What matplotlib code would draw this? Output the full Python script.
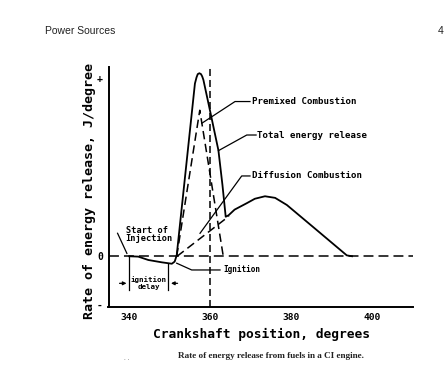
import matplotlib
matplotlib.use("Agg")
import matplotlib.pyplot as plt

# ---- data (crank angle in degrees, energy release in arbitrary units) ----
total_x = [340, 342.2, 344.7, 348.0, 350.5, 351.2, 351.7, 356.2, 356.6, 356.9,
           357.3, 357.7, 358.0, 358.3, 360.0, 362.0, 363.0, 363.8, 364.5, 366.0,
           369.0, 371.0, 373.5, 376.0, 378.9, 385.4, 393.7, 395.0]
total_y = [0, -0.2, -2.1, -3.4, -4.2, -3.0, 0.5, 97, 100.5, 102.3,
           102.8, 102.3, 101, 99, 81, 59.5, 40, 22.2, 23, 26.2,
           29.8, 32.3, 33.7, 32.8, 28.8, 16.4, 0.5, 0]
premixed_x = [351.7, 357.4, 363.2]
premixed_y = [0, 82, 0]
diffusion_x = [351.8, 364.6]
diffusion_y = [0, 22.5]

xticks = [340, 360, 380, 400]
yticks = [-27.5, 0, 100]
yticklabels = ["-", "0", "+"]

W, H = 444, 366
fig = plt.figure(figsize=(W / 100, H / 100), dpi=100)
fig.patch.set_facecolor("white")

def fx(px):
    return px / W

def fy(py):
    return 1 - py / H

ax_l, ax_r, ax_b, ax_t = 108.5, 413, 307, 67
ax = fig.add_axes([fx(ax_l), fy(ax_b), (ax_r - ax_l) / W, (ax_b - ax_t) / H])
ax.set_xlim(334.86, 410.05)
ax.set_ylim(-28.5, 106.3)

mono = dict(family="DejaVu Sans Mono", weight="bold", color="black")

for s in ["top", "right"]:
    ax.spines[s].set_visible(False)
for s in ["left", "bottom"]:
    ax.spines[s].set_linewidth(1.4)

ax.set_xticks(xticks)
ax.set_xticklabels([str(t) for t in xticks], fontdict=dict(mono, size=6.8))
ax.set_yticks(yticks)
ax.set_yticklabels(yticklabels, fontdict=dict(mono, size=7))
ax.tick_params(length=0, pad=4)

# reference lines
ax.axhline(0, color="black", lw=1.1, dashes=(6.5, 3.3))
ax.axvline(360, color="black", lw=1.1, dashes=(4.6, 2.6))

# curves
ax.plot(total_x, total_y, color="black", lw=1.3, solid_joinstyle="round")
ax.plot(premixed_x, premixed_y, color="black", lw=1.1, dashes=(5.5, 3.0))
ax.plot(diffusion_x, diffusion_y, color="black", lw=1.1, dashes=(5.5, 3.0))

# annotations with leader lines
lead = dict(color="black", lw=0.9)
ax.plot([369.8, 366.1, 357.9], [86.9, 86.9, 74.7], **lead)
ax.text(370.2, 86.9, "Premixed Combustion", va="center", ha="left", fontdict=dict(mono, size=6.6))
ax.plot([371.3, 369.0, 362.0], [68.1, 68.1, 59.3], **lead)
ax.text(371.5, 68.1, "Total energy release", va="center", ha="left", fontdict=dict(mono, size=6.6))
ax.plot([369.8, 367.75, 357.46], [45.1, 45.1, 12.9], **lead)
ax.text(370.2, 45.1, "Diffusion Combustion", va="center", ha="left", fontdict=dict(mono, size=6.6))

ax.text(339.1, 12.2, "Start of\nInjection", va="center", ha="left", linespacing=0.95,
        fontdict=dict(mono, size=6.2))
ax.plot([337.1, 339.4], [12.9, 1.6], **lead)

ax.plot([351.7, 355.4, 362.4], [-3.9, -7.7, -7.7], **lead)
ax.text(363.2, -7.7, "Ignition", va="center", ha="left", fontdict=dict(mono, size=5.6))

ax.plot([340, 340], [0, -18.9], **lead)
ax.plot([349.6, 349.6], [-4.3, -18.9], **lead)
ax.annotate("", xy=(340, -15.2), xytext=(336.9, -15.2),
            arrowprops=dict(arrowstyle="-|>", color="black", lw=0.9, mutation_scale=5))
ax.annotate("", xy=(349.6, -15.2), xytext=(352.6, -15.2),
            arrowprops=dict(arrowstyle="-|>", color="black", lw=0.9, mutation_scale=5))
ax.text(344.8, -15.0, "ignition\ndelay", va="center", ha="center", linespacing=1.15,
        fontdict=dict(mono, size=5.4))

# axis labels
fig.text(fx(90), fy(191), "Rate of energy release, J/degree", rotation=90,
         ha="center", va="center", fontdict=dict(mono, size=9.6))
fig.text(fx(261.5), fy(334), "Crankshaft position, degrees", ha="center", va="center",
         fontdict=dict(mono, size=9.3))

# page header and caption
fig.text(fx(45), fy(31), "Power Sources", ha="left", va="center",
         family="Liberation Sans", size=7.5, color="#222222")
fig.text(fx(438), fy(31), "4", ha="left", va="center",
         family="Liberation Sans", size=7.5, color="#222222")
fig.text(fx(178), fy(356), "Rate of energy release from fuels in a CI engine.", ha="left",
         va="center", family="Liberation Serif", weight="bold", size=6.6, color="#222222")
fig.text(fx(124), fy(358), ". .", ha="left", va="center", family="Liberation Serif",
         size=5, color="#555555")

fig.savefig("out.png", dpi=100, facecolor="white")
